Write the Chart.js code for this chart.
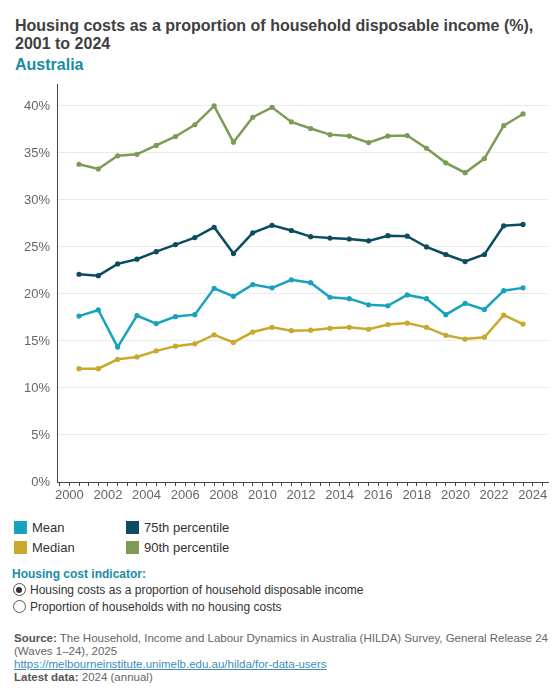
<!DOCTYPE html>
<html>
<head>
<meta charset="utf-8">
<script src="https://cdn.jsdelivr.net/npm/chart.js@4.4.1/dist/chart.umd.min.js"></script>
<style>
  html, body { margin: 0; padding: 0; background: #fff; }
  body { width: 560px; height: 700px; position: relative; font-family: "Liberation Sans", Arial, sans-serif; overflow: hidden; }
  .abs { position: absolute; white-space: nowrap; }
  #title { left: 15px; top: 17px; font-size: 16px; font-weight: bold; color: #404040; line-height: 18px; }
  #sub { left: 15px; top: 56px; font-size: 16px; font-weight: bold; color: #1a8ca6; line-height: 18px; }
  #chartWrap { position: absolute; left: 0; top: 70px; width: 560px; height: 440px; }
  .lg { font-size: 13px; color: #333; line-height: 15px; }
  .sw { position: absolute; width: 13px; height: 13px; }
  #ind { left: 12px; top: 567px; font-size: 12px; font-weight: bold; color: #1a8ca6; line-height: 14px; }
  .radio { position: absolute; width: 11px; height: 11px; border: 1px solid #555; border-radius: 50%; background: #fff; }
  .radio.on::after { content: ""; position: absolute; left: 2.5px; top: 2.5px; width: 6px; height: 6px; border-radius: 50%; background: #333; }
  .rt { font-size: 12px; color: #333; line-height: 14px; }
  .src { font-size: 11.5px; color: #666; line-height: 12.7px; left: 14px; }
  .src b { color: #555; }
  .src a { color: #3d8db8; text-decoration: underline; }
</style>
</head>
<body>
<div class="abs" id="title">Housing costs as a proportion of household disposable income (%),<br>2001 to 2024</div>
<div class="abs" id="sub">Australia</div>
<div id="chartWrap"><canvas id="c" width="560" height="440"></canvas></div>

<div class="sw" style="left:14px;top:521px;background:#18a2bd"></div>
<div class="abs lg" style="left:32px;top:520px">Mean</div>
<div class="sw" style="left:14px;top:541px;background:#c8a92d"></div>
<div class="abs lg" style="left:32px;top:540px">Median</div>
<div class="sw" style="left:126px;top:521px;background:#0c4b61"></div>
<div class="abs lg" style="left:144px;top:520px">75th percentile</div>
<div class="sw" style="left:126px;top:541px;background:#7c9b56"></div>
<div class="abs lg" style="left:144px;top:540px">90th percentile</div>

<div class="abs" id="ind">Housing cost indicator:</div>
<div class="radio on" style="left:12.5px;top:583px"></div>
<div class="abs rt" style="left:30px;top:583px">Housing costs as a proportion of household disposable income</div>
<div class="radio" style="left:12.5px;top:600px"></div>
<div class="abs rt" style="left:30px;top:599.5px">Proportion of households with no housing costs</div>

<div class="abs src" style="top:632px"><b>Source:</b> The Household, Income and Labour Dynamics in Australia (HILDA) Survey, General Release 24</div>
<div class="abs src" style="top:645px">(Waves 1–24), 2025</div>
<div class="abs src" style="top:658px"><a>https://melbourneinstitute.unimelb.edu.au/hilda/for-data-users</a></div>
<div class="abs src" style="top:671px"><b>Latest data:</b> 2024 (annual)</div>

<script>
const years = [2001,2002,2003,2004,2005,2006,2007,2008,2009,2010,2011,2012,2013,2014,2015,2016,2017,2018,2019,2020,2021,2022,2023,2024];
const meanValues = [17.65,18.3,14.35,17.7,16.85,17.6,17.8,20.6,19.75,21.0,20.65,21.5,21.2,19.65,19.5,18.85,18.75,19.9,19.5,17.8,19.0,18.35,20.35,20.65];
const medianValues = [12.05,12.05,13.05,13.3,13.95,14.45,14.7,15.65,14.85,15.95,16.45,16.1,16.15,16.35,16.45,16.25,16.75,16.9,16.45,15.6,15.2,15.4,17.75,16.8];
const p75Values = [22.1,21.95,23.2,23.7,24.5,25.25,26.0,27.1,24.3,26.5,27.3,26.75,26.1,25.95,25.85,25.65,26.2,26.15,25.0,24.2,23.45,24.2,27.25,27.4];
const p90Values = [33.8,33.3,34.7,34.85,35.8,36.75,38.0,40.0,36.15,38.8,39.85,38.3,37.6,36.95,36.8,36.1,36.8,36.85,35.5,33.95,32.9,34.4,37.9,39.15];
const xTickLabels = [2000,2002,2004,2006,2008,2010,2012,2014,2016,2018,2020,2022,2024];
const yTickValues = [0,5,10,15,20,25,30,35,40];

// each survey year is plotted at the middle of the preceding financial year
const toPoints = vals => vals.map((v, i) => ({ x: years[i] - 0.5, y: v }));

const mk = (label, vals, color) => ({
  label, data: toPoints(vals),
  borderColor: color, backgroundColor: color,
  pointBackgroundColor: color, pointBorderColor: color,
  borderWidth: 2.5, pointRadius: 2.6, pointBorderWidth: 0, pointHoverRadius: 2.6, tension: 0
});

new Chart(document.getElementById('c'), {
  type: 'line',
  data: {
    datasets: [
      mk('90th percentile', p90Values, '#7c9b56'),
      mk('75th percentile', p75Values, '#0c4b61'),
      mk('Mean', meanValues, '#18a2bd'),
      mk('Median', medianValues, '#c8a92d')
    ]
  },
  options: {
    responsive: false,
    animation: false,
    devicePixelRatio: 1,
    layout: { padding: { left: 0, right: 11.5, top: 13, bottom: 0 } },
    plugins: { legend: { display: false }, tooltip: { enabled: false } },
    scales: {
      x: {
        type: 'linear',
        min: 1999.36,
        max: 2024.82,
        afterBuildTicks: s => {
          const t = [];
          for (let v = 1999.5; v <= 2024.5 + 1e-9; v += 0.5) t.push({ value: v });
          s.ticks = t;
        },
        afterFit: s => { s.height = 28; },
        grid: { drawOnChartArea: false, drawTicks: true, tickLength: 4, color: '#444' },
        border: { display: true, color: '#444', width: 1 },
        ticks: {
          autoSkip: false, maxRotation: 0, padding: 2,
          color: '#666', font: { family: 'Liberation Sans', size: 13 },
          callback: v => xTickLabels.includes(Math.round(v * 2) / 2) ? String(v) : ''
        }
      },
      y: {
        min: 0,
        max: 42.25,
        afterBuildTicks: s => { s.ticks = yTickValues.map(v => ({ value: v })); },
        afterFit: s => { s.width = 57; },
        grid: { color: ctx => ctx.tick && ctx.tick.value === 0 ? 'rgba(0,0,0,0)' : '#ebebeb', drawTicks: false, lineWidth: 1 },
        border: { display: true, color: '#444', width: 1 },
        ticks: {
          padding: 7,
          color: '#666', font: { family: 'Liberation Sans', size: 13 },
          callback: v => v + '%'
        }
      }
    }
  }
});
</script>
</body>
</html>
